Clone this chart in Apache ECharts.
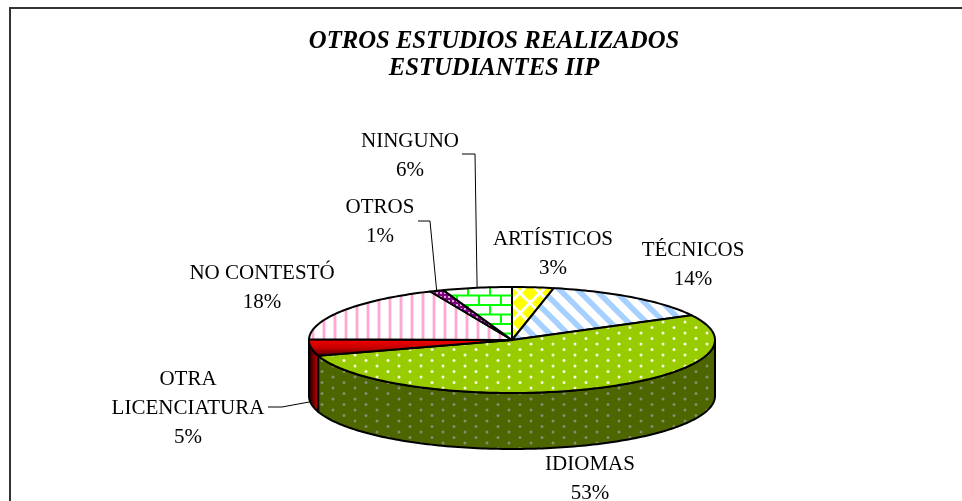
<!DOCTYPE html>
<html><head><meta charset="utf-8">
<style>html,body{margin:0;padding:0;background:#fff}#c{width:962px;height:501px}</style>
<script src="https://cdn.jsdelivr.net/npm/echarts@6/dist/echarts.min.js"></script>
</head><body><div id="c"></div>
<script>
const categories = ['ARTÍSTICOS','TÉCNICOS','IDIOMAS','OTRA\nLICENCIATURA','NO CONTESTÓ','OTROS','NINGUNO'];
const values = [3.3, 14, 52.9, 5, 18.2, 1.1, 5.5];
const titleLines = ['OTROS ESTUDIOS REALIZADOS','ESTUDIANTES IIP'];

const cx=512, cy=340, rx=203, ry=53, depth=56;
const labelPos=[[553,254],[693,265],[590,479],[188,408],[262,288],[380,222],[410,156]];
const leaders={3:[[268,407],[282,407]],5:[[418,221],[430,221]],6:[[462,154],[475,154]]};

function tile(w,h,bg,draw){const c=document.createElement('canvas');c.width=w;c.height=h;const g=c.getContext('2d');g.fillStyle=bg;g.fillRect(0,0,w,h);draw(g);return {image:c,repeat:'repeat'};}
function dots(col,bg){return tile(22,11,bg,g=>{g.fillStyle=col;[[3,3],[14,8.5]].forEach(p=>{g.beginPath();g.arc(p[0],p[1],1.5,0,7);g.fill();});});}
const fills=[
 tile(20,20,'#fff',g=>{g.fillStyle='#ffff00';[[0,3],[20,3],[0,23],[20,23],[10,13]].forEach(p=>{g.beginPath();g.moveTo(p[0]-8,p[1]);g.lineTo(p[0],p[1]-8);g.lineTo(p[0]+8,p[1]);g.lineTo(p[0],p[1]+8);g.closePath();g.fill();});}),
 tile(18,18,'#fff',g=>{g.strokeStyle='#a6d0ff';g.lineWidth=5.5;[-18,0,18].forEach(o=>{g.beginPath();g.moveTo(o-5,-5);g.lineTo(o+23,23);g.stroke();});}),
 dots('#f4f9e0','#99cc00'),
 new echarts.graphic.LinearGradient(0,0,0,1,[{offset:0,color:'#ff0000'},{offset:.55,color:'#c00000'},{offset:1,color:'#400000'}]),
 tile(11,10,'#fff',g=>{g.fillStyle='#ffdcec';g.fillRect(3,0,4,10);g.fillStyle='#ffa6d2';g.fillRect(4,0,2,10);}),
 tile(4,4,'#800080',g=>{g.fillStyle='#d9a6d9';g.fillRect(0,0,2,2);}),
 tile(22,19,'#fff',g=>{g.fillStyle='#00ff00';g.fillRect(0,0,22,2);g.fillRect(0,9.5,22,2);g.fillRect(5,0,2,10);g.fillRect(16,10,2,9);})
];
const wallFills={2:dots('#848d74','#4d6600'),3:new echarts.graphic.LinearGradient(0,0,1,0,[{offset:0,color:'#000'},{offset:1,color:'#e00000'}])};

const total=values.reduce((a,b)=>a+b,0);
const ang=[];let acc=0;values.forEach(v=>{ang.push([acc/total*2*Math.PI,(acc+v)/total*2*Math.PI]);acc+=v;});
const pt=(a,dy)=>[cx+rx*Math.sin(a),cy-ry*Math.cos(a)+(dy||0)];
function arc(a0,a1,dy){const n=Math.max(2,Math.ceil((a1-a0)/0.02));const r=[];for(let i=0;i<=n;i++)r.push(pt(a0+(a1-a0)*i/n,dy));return r;}
const blk={stroke:'#000',lineWidth:2,lineJoin:'round'};
function poly(points,fill){return {type:'polygon',shape:{points},style:Object.assign({fill},blk)};}
function render(params){
  const i=params.dataIndex,[a0,a1]=ang[i],ch=[];
  const s=Math.max(a0,Math.PI/2),e=Math.min(a1,Math.PI*1.5);
  if(e>s){const top=arc(s,e,0),bot=arc(s,e,depth).reverse();ch.push(poly(top.concat(bot),wallFills[i]));}
  ch.push(poly([[cx,cy]].concat(arc(a0,a1,0)),fills[i]));
  return {type:'group',children:ch};
}
function renderLabel(params){
  const i=params.dataIndex,ch=[];
  const mid=(ang[i][0]+ang[i][1])/2;
  if(leaders[i]){
    const end=pt(mid,i===3?depth-2:0);
    ch.push({type:'polyline',shape:{points:leaders[i].concat([end])},style:{fill:'none',stroke:'#000',lineWidth:1}});
  }
  const pct=Math.round(values[i])+'%';
  ch.push({type:'text',style:{x:labelPos[i][0],y:labelPos[i][1],text:categories[i]+'\n'+pct,font:'21px "Liberation Serif"',lineHeight:29,fill:'#000',align:'center',verticalAlign:'middle'}});
  return {type:'group',children:ch};
}
const chart=echarts.init(document.getElementById('c'),null,{renderer:'canvas'});
chart.setOption({
  animation:false,
  backgroundColor:'#fff',
  title:{text:titleLines.join('\n'),left:489,top:23,textAlign:'center',textStyle:{fontFamily:'Liberation Serif',fontSize:24.7,fontWeight:'bold',fontStyle:'italic',color:'#000',lineHeight:27}},
  graphic:[
    {type:'line',shape:{x1:10,y1:8,x2:962,y2:8},style:{stroke:'#333',lineWidth:2}},
    {type:'line',shape:{x1:10,y1:7,x2:10,y2:501},style:{stroke:'#333',lineWidth:2}}
  ],
  series:[
    {type:'custom',coordinateSystem:'none',renderItem:render,data:categories.map((n,i)=>({name:n,value:values[i]})),z:1,silent:true},
    {type:'custom',coordinateSystem:'none',renderItem:renderLabel,data:categories.map((n,i)=>({name:n,value:values[i]})),z:2,silent:true}
  ]
});
</script></body></html>
